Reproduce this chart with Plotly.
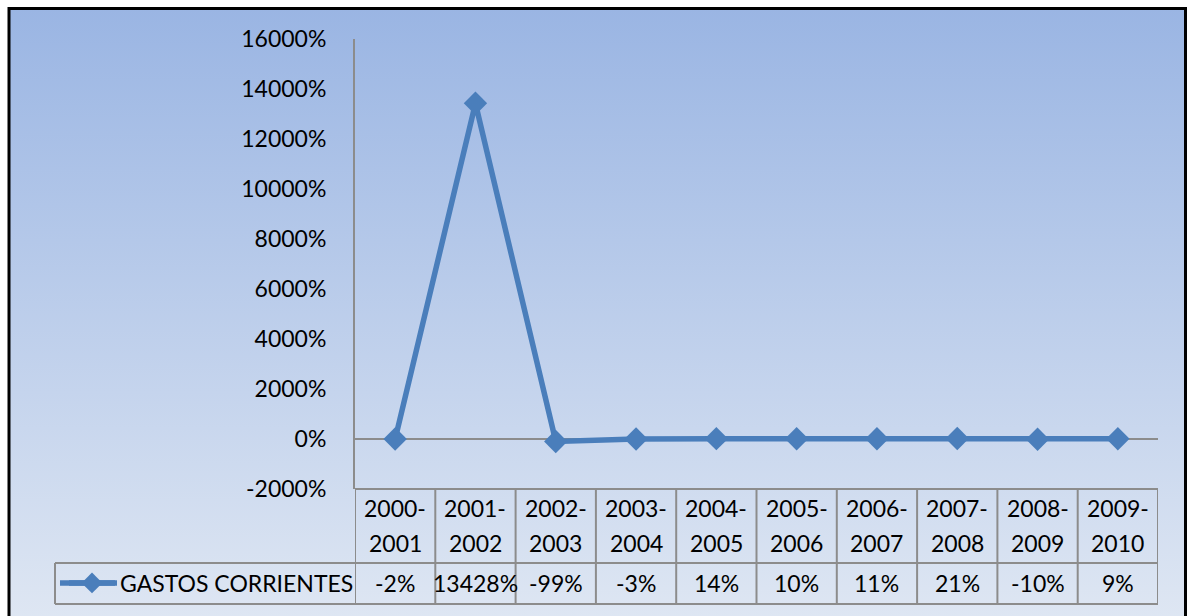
import base64
import plotly.graph_objects as go

categories_top = ["2000-", "2001-", "2002-", "2003-", "2004-", "2005-", "2006-", "2007-", "2008-", "2009-"]
categories_bottom = ["2001", "2002", "2003", "2004", "2005", "2006", "2007", "2008", "2009", "2010"]
values = [-2, 13428, -99, -3, 14, 10, 11, 21, -10, 9]
series_name = "GASTOS CORRIENTES"
y_ticks = [-2000, 0, 2000, 4000, 6000, 8000, 10000, 12000, 14000, 16000]

W, H = 1187, 616
FONT = "Lato"
FS = 23
GRID = "#8c8c8c"
BLUE = "#4a7ebb"

def px_x(p):
    return p / W

def px_y(p):
    return 1 - p / H

cats = [f"{a}{b}" for a, b in zip(categories_top, categories_bottom)]
idx = list(range(len(cats)))

fig = go.Figure()
fig.add_trace(go.Scatter(
    x=idx, y=values, mode="lines+markers", name=series_name,
    line=dict(color=BLUE, width=5.5),
    marker=dict(symbol="diamond", size=18, color=BLUE),
    showlegend=True, cliponaxis=False,
))

svg = (
    '<svg xmlns="http://www.w3.org/2000/svg" width="100" height="100" preserveAspectRatio="none">'
    '<defs><linearGradient id="g" x1="0" y1="0" x2="0" y2="1">'
    '<stop offset="0" stop-color="#9ab5e3"/><stop offset="1" stop-color="#dfe7f3"/>'
    '</linearGradient></defs><rect width="100" height="100" fill="url(#g)"/></svg>'
)
src = "data:image/svg+xml;base64," + base64.b64encode(svg.encode()).decode()

x_left, x_right = 355, 1158
y_top, y_bot = 39, 489
row1_bot, row2_bot = 563, 604
legend_left = 55
legend_row_mid = 583

shapes = []
shapes.append(dict(type="rect", xref="paper", yref="paper",
                   x0=px_x(9), x1=px_x(1185.5), y0=px_y(625), y1=px_y(8.5),
                   line=dict(color="black", width=3), layer="above"))
shapes.append(dict(type="line", xref="x", yref="paper", x0=-0.5, x1=len(cats) - 0.5,
                   y0=px_y(y_bot), y1=px_y(y_bot), line=dict(color=GRID, width=2)))
for yy in [row1_bot, row2_bot]:
    shapes.append(dict(type="line", xref="paper", yref="paper", x0=px_x(legend_left), x1=px_x(x_right),
                       y0=px_y(yy), y1=px_y(yy), line=dict(color=GRID, width=2)))
for k in range(len(cats) + 1):
    shapes.append(dict(type="line", xref="x", yref="paper", x0=k - 0.5, x1=k - 0.5,
                       y0=px_y(row2_bot), y1=px_y(y_bot), line=dict(color=GRID, width=2)))
shapes.append(dict(type="line", xref="paper", yref="paper", x0=px_x(legend_left), x1=px_x(legend_left),
                   y0=px_y(row2_bot), y1=px_y(row1_bot), line=dict(color=GRID, width=2)))
# widen the legend key line to match the Excel-style key
shapes.append(dict(type="line", xref="paper", yref="paper", x0=px_x(60), x1=px_x(117),
                   y0=px_y(legend_row_mid), y1=px_y(legend_row_mid),
                   line=dict(color=BLUE, width=5.5), layer="below"))

annotations = []
for i in idx:
    for txt, yy in [(categories_top[i], 508), (categories_bottom[i], 543), (f"{values[i]}%", legend_row_mid)]:
        annotations.append(dict(x=i, y=px_y(yy), xref="x", yref="paper", text=txt,
                                showarrow=False, font=dict(family=FONT, size=FS, color="black"),
                                xanchor="center", yanchor="middle"))

fig.update_layout(
    width=W, height=H,
    margin=dict(l=0, r=0, t=0, b=0, autoexpand=False),
    paper_bgcolor="white", plot_bgcolor="rgba(0,0,0,0)",
    font=dict(family=FONT, size=FS, color="black"),
    images=[dict(source=src, xref="paper", yref="paper", x=px_x(9), y=px_y(8.5),
                 sizex=px_x(1185.5) - px_x(9), sizey=px_y(8.5) - px_y(625),
                 sizing="stretch", layer="below", xanchor="left", yanchor="top")],
    xaxis=dict(domain=[px_x(x_left), px_x(x_right)], range=[-0.5, len(cats) - 0.5],
               showticklabels=False, showgrid=False, zeroline=False, showline=False,
               fixedrange=True, automargin=False),
    yaxis=dict(domain=[px_y(y_bot), px_y(y_top)], range=[-2000, 16000],
               tickvals=y_ticks, ticktext=[f"{v}%" for v in y_ticks],
               showgrid=False, zeroline=True, zerolinecolor=GRID, zerolinewidth=2,
               showline=True, linecolor=GRID, linewidth=2, ticks="", ticklabelstandoff=22,
               tickfont=dict(family=FONT, size=FS, color="black"), automargin=False),
    showlegend=True,
    legend=dict(x=px_x(64), y=px_y(legend_row_mid), xanchor="left", yanchor="middle",
                bgcolor="rgba(0,0,0,0)", font=dict(family=FONT, size=FS, color="black"),
                itemwidth=46, borderwidth=0),
    shapes=shapes,
    annotations=annotations,
)

fig.write_html("out.html", post_script="document.body.style.margin='0';",
               config={"displayModeBar": False})
